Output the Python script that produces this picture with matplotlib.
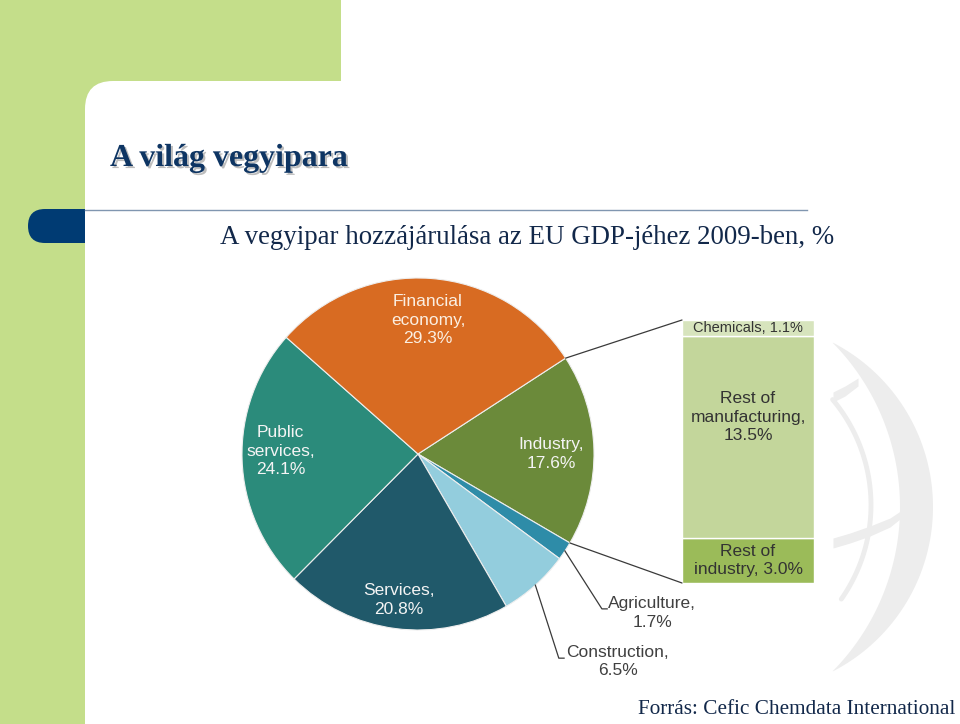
import numpy as np
import matplotlib
matplotlib.use("Agg")
import matplotlib.pyplot as plt
from matplotlib.patches import FancyBboxPatch, Rectangle, Polygon, ConnectionPatch
import matplotlib.patheffects as pe

# --- data ---
pie_labels = ["Industry", "Agriculture", "Construction", "Services",
              "Public\nservices", "Financial\neconomy"]
pie_values = [17.6, 1.7, 6.5, 20.8, 24.1, 29.3]
pie_colors = ["#6B8A3A", "#2E8CA8", "#93CDDD", "#20596A", "#2B8B7B", "#D86B22"]

bar_labels = ["Rest of\nindustry", "Rest of\nmanufacturing", "Chemicals"]
bar_values = [3.0, 13.5, 1.1]
bar_colors = ["#9BBB59", "#C3D69B", "#D7E4BD"]

title = "A világ vegyipara"
subtitle = "A vegyipar hozzájárulása az EU GDP-jéhez 2009-ben, %"
source = "Forrás: Cefic Chemdata International"

W, H = 960, 724
fig = plt.figure(figsize=(W / 100, H / 100), dpi=100)
fig.patch.set_facecolor("white")

# background axes in pixel units (y measured from top)
bg = fig.add_axes([0, 0, 1, 1])
bg.set_xlim(0, W)
bg.set_ylim(H, 0)
bg.axis("off")

green = "#C4DE8A"
navy = "#0E3563"
bg.add_patch(Rectangle((0, 0), 341, 81, color=green, lw=0))
bg.add_patch(Rectangle((0, 0), 85, H, color=green, lw=0))
bg.add_patch(Rectangle((0, 0), 130, 130, color=green, lw=0))
bg.add_patch(FancyBboxPatch((28, 209), 90, 34, boxstyle="round,pad=0,rounding_size=17",
                            fc="#003B73", ec="none"))
bg.add_patch(FancyBboxPatch((85, 81), 1000, 800, boxstyle="round,pad=0,rounding_size=28",
                            fc="white", ec="none"))
bg.plot([85, 807], [209.5, 209.5], color="#8096B0", lw=1)

# globe watermark
wm = "#EDEDED"
a_out = np.radians(np.linspace(-62.6, 62.6, 80))
a_in = np.radians(np.linspace(44.5, -44.5, 80))
crescent = np.vstack([np.column_stack([748 + 185 * np.cos(a_out), 507 + 185 * np.sin(a_out)]),
                      np.column_stack([666 + 234 * np.cos(a_in), 507 + 234 * np.sin(a_in)])])
bg.add_patch(Polygon(crescent, closed=True, fc=wm, ec="none"))
a_thin = np.radians(np.linspace(-40, 35, 60))
bg.plot(707 + 164 * np.cos(a_thin), 505 + 164 * np.sin(a_thin), color=wm, lw=3.5,
        solid_capstyle="round")
bg.fill_between([833, 850, 870, 890, 905], [548, 543, 536, 527, 515], [538, 533, 526, 518, 508],
                color=wm, lw=0)
bg.fill_between([833, 845, 858], [402, 396, 386], [392, 386, 378], color=wm, lw=0)

# texts
bg.text(110, 166, title, fontsize=23, fontweight="bold", family="Liberation Serif",
        color=navy, va="baseline",
        path_effects=[pe.withSimplePatchShadow(offset=(1.5, -1.5), shadow_rgbFace="#BDBDBD", alpha=1)])
bg.text(220, 244, subtitle, fontsize=19.4, family="Liberation Serif", color="#12284A",
        va="baseline")
bg.text(955, 714, source, fontsize=15.3, family="Liberation Serif", color="#12284A",
        va="baseline", ha="right")

# --- pie ---
cx, cy, r = 418, 454, 176
start = 33
pax = fig.add_axes([(cx - r) / W, (H - cy - r) / H, 2 * r / W, 2 * r / H])
wedges, _ = pax.pie(pie_values, colors=pie_colors, startangle=start, counterclock=False,
                    wedgeprops=dict(edgecolor="#EEEEEE", linewidth=0.8))
pax.set_xlim(-1, 1)
pax.set_ylim(-1, 1)
pax.set_aspect("auto")
pax.axis("off")

font = "Liberation Sans"
fs = 12.5
ls = 1.3
inside_pos = {0: (0.755, 0.0), 3: (-0.108, -0.83), 4: (-0.78, 0.017), 5: (0.057, 0.76)}
inside_col = {0: "#F4F4F4", 3: "#F4F4F4", 4: "#F4F4F4", 5: "#FBEFE2"}
for i, (x, y) in inside_pos.items():
    pax.text(x, y, f"{pie_labels[i]},\n{pie_values[i]}%", ha="center", va="center",
             fontsize=fs, family=font, color=inside_col[i], linespacing=ls)

# outside labels with elbow leaders
frac = np.cumsum([0] + pie_values) / sum(pie_values) * 360
outside = {1: ((1.045, -0.88), (1.33, -0.903)), 2: ((0.80, -1.16), (1.136, -1.18))}
for i, ((ex, ey), (tx, ty)) in outside.items():
    mid = np.radians(start - (frac[i] + frac[i + 1]) / 2)
    px, py = np.cos(mid), np.sin(mid)
    pax.plot([px, ex, ex + 0.03], [py, ey, ey], color="#3A3A3A", lw=0.9, clip_on=False)
    pax.text(tx, ty, f"{pie_labels[i]},\n{pie_values[i]}%", ha="center", va="center",
             fontsize=fs, family=font, color="#404040", linespacing=ls)

# --- stacked bar for Industry breakdown ---
bx0, by0, bw, bh = 682, 320, 132, 263
bax = fig.add_axes([bx0 / W, (H - by0 - bh) / H, bw / W, bh / H])
total = sum(bar_values)
bottoms = np.cumsum([0] + bar_values[:-1])
# soft shadow
bax.bar(0.04, total, width=1, bottom=-0.12, color="#D0D0D0", alpha=0.6, zorder=0)
bax.bar(0, bar_values, width=1, bottom=bottoms, color=bar_colors, edgecolor="white",
        linewidth=1, zorder=1)
bax.set_xlim(-0.5, 0.5)
bax.set_ylim(0, total)
bax.axis("off")
text_frac = [0.5, 0.6, 0.5]
for lab, v, b, f in zip(bar_labels, bar_values, bottoms, text_frac):
    if lab == "Rest of\nindustry":
        txt = f"Rest of\nindustry, {v}%"
    elif "\n" in lab:
        txt = f"{lab},\n{v}%"
    else:
        txt = f"{lab}, {v}%"
    bax.text(0.0, b + v * f, txt, ha="center", va="center", fontsize=fs if v > 2 else 10.5,
             family=font, color="#333333", linespacing=ls, zorder=3)

# connectors pie -> bar
a0 = np.radians(start)
a1 = np.radians(start - frac[1])
for ang, yb in [(a0, total), (a1, 0)]:
    con = ConnectionPatch(xyA=(np.cos(ang), np.sin(ang)), coordsA="data", axesA=pax,
                          xyB=(-0.5, yb), coordsB="data", axesB=bax, color="#3A3A3A", lw=0.9)
    fig.add_artist(con)

fig.savefig("out.png", dpi=100)
